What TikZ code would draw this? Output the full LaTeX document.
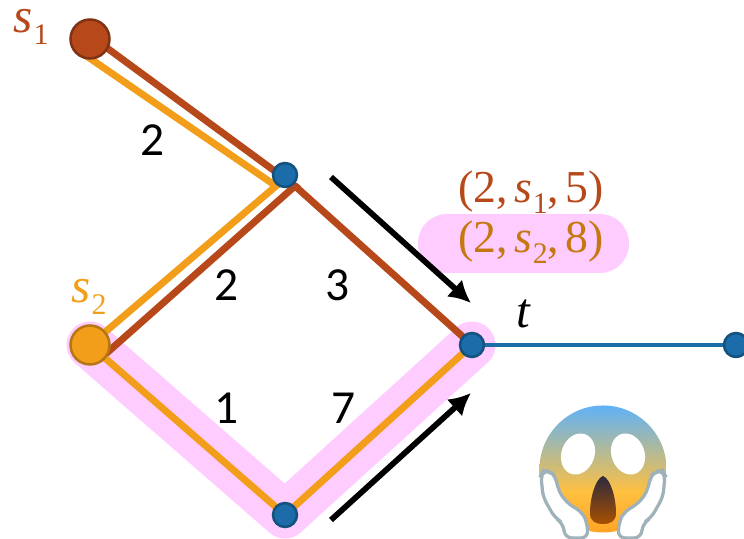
\documentclass[tikz,border=0pt]{standalone}
\usepackage{amsmath}
\usepackage{xcolor}
\usepackage{fontspec}
\usepackage{tikz}
\usetikzlibrary{arrows.meta,backgrounds}
\newfontfamily\lblfont{Carlito}
\newfontfamily\symfont{Liberation Serif}
\definecolor{srcone}{HTML}{B7481A}
\definecolor{srctwo}{HTML}{F29E1A}
\definecolor{srctwotext}{HTML}{C5780F}
\definecolor{vertex}{HTML}{1B6CA8}
\definecolor{halo}{HTML}{FFCCFF}
\definecolor{handline}{HTML}{9FB1B9}
\definecolor{facetop}{HTML}{5FB2F8}
\definecolor{facegold}{HTML}{FFC040}
\definecolor{facelow}{HTML}{FFA426}
\definecolor{mouthtop}{HTML}{2E2A3E}
\definecolor{mouthlow}{HTML}{A85000}
\pgfdeclareverticalshading{facefill}{100bp}{color(0bp)=(facelow); color(25bp)=(facelow);
  color(41bp)=(facegold); color(75bp)=(facetop); color(100bp)=(facetop)}
\newcommand{\srcvar}[1]{{\itshape s}\kern0.02em\raisebox{-0.24em}{\fontsize{17}{20}\selectfont #1}}
\newcommand{\tuplesep}{,\kern0.14em}

\begin{document}
\begin{tikzpicture}[
  bigv/.style={circle,minimum size=0.78cm,inner sep=0pt,outer sep=0pt,line width=0.05cm},
  smallv/.style={circle,draw=vertex!75!black,fill=vertex,minimum size=0.48cm,
                 inner sep=0pt,outer sep=0pt,line width=0.05cm},
  weight/.style={font=\lblfont\fontsize{27}{31}\selectfont,text=black},
  tuple/.style={font=\symfont\fontsize{26}{30}\selectfont},
  srclabel/.style={font=\symfont\fontsize{28}{32}\selectfont,inner sep=0pt},
  pen/.style={line width=0.14cm,line join=miter},
  push/.style={-{Latex[length=0.44cm,width=0.46cm]},line width=0.115cm,black},
  hand/.style={draw=handline,fill=white,line width=0.065cm,rounded corners=4pt}
]
\useasboundingbox (0,0) rectangle (14.88,10.78);

% vertices
\node[bigv,draw=srcone!70!black,fill=srcone] (s1) at (1.8,10.0) {};
\node[bigv,draw=srctwo!75!black,fill=srctwo] (s2) at (1.8,3.88) {};
\node[smallv] (upper) at (5.7,7.28) {};
\node[smallv] (lower) at (5.7,0.48) {};
\node[smallv] (t) at (9.44,3.88) {};
\node[smallv] (sink) at (14.72,3.88) {};

% route end points
\coordinate (s1brown) at (1.84,10.04);
\coordinate (s1orange) at (1.70,9.68);
\coordinate (s2brown) at (2.0,3.6);
\coordinate (bendbrown) at (5.9,7.06);
\coordinate (bendorange) at (5.52,7.06);

% routes behind the vertices
\begin{scope}[on background layer]
\draw[halo,line width=0.94cm,line join=round,line cap=round]
  (s2.center) -- (lower.center) -- (t.center);
\draw[pen,srcone] (s1brown) -- (bendbrown) -- (s2brown);
\draw[pen,srcone] (bendbrown) -- (t.center);
\draw[pen,srctwo] (s1orange) -- (bendorange) -- (s2.center);
\draw[pen,srctwo] (s2.center) -- (lower.center) -- (t.center);
\draw[vertex,line width=0.08cm] (t) -- (sink);
\end{scope}

% labels
\node[srclabel,text=srcone] (s1lbl) at (0.62,10.24) {\srcvar{1}};
\node[srclabel,text=srctwo] (s2lbl) at (1.78,4.84) {\srcvar{2}};
\node[srclabel] (tlbl) at (10.46,4.5) {\itshape t};
\node[weight] (w1) at (3.06,7.98) {2};
\node[weight] (w2) at (4.54,5.08) {2};
\node[weight] (w3) at (6.76,5.08) {3};
\node[weight] (w4) at (4.54,2.62) {1};
\node[weight] (w5) at (6.88,2.62) {7};

% tuples
\node[fill=halo,rounded corners=0.58cm,minimum width=4.22cm,minimum height=1.18cm,
  inner sep=0pt] (pill) at (10.47,5.91) {};
\node[tuple,text=srcone] (t1) at (10.62,6.94) {(2\tuplesep\srcvar{1}\tuplesep5)};
\node[tuple,text=srctwotext] (t2) at (10.62,5.93) {(2\tuplesep\srcvar{2}\tuplesep8)};

% arrows
\coordinate (pushtop) at (6.62,7.24);
\coordinate (pushtopend) at (9.42,4.72);
\coordinate (pushlow) at (6.62,0.38);
\coordinate (pushlowend) at (9.42,2.92);
\draw[push] (pushtop) -- (pushtopend);
\draw[push] (pushlow) -- (pushlowend);

% scared face
\begin{scope}[shift={(12.06,1.4)},x=0.02cm,y=-0.02cm]
\shade[shading=facefill] (0,0) circle (1.27cm);
\foreach \sx in {1,-1} {
  \begin{scope}[xscale=\sx]
  \fill[white,rotate around={-20:(-25,-15)}] (-25,-15) ellipse (0.33cm and 0.42cm);
  \draw[hand] (-62,6) -- (-60,2) -- (-53,2) -- (-47,8) -- (-45,21) -- (-36,34)
    -- (-21,43) -- (-16,53) -- (-15,69) -- (-38,69) -- (-40,54) -- (-48,49)
    -- (-60,28) -- cycle;
  \end{scope}
}
\shade[top color=mouthtop,bottom color=mouthlow]
  (0,7) .. controls (-8,10) and (-13,30) .. (-13,44)
  .. controls (-13,52) and (-8,55) .. (0,55)
  .. controls (8,55) and (13,52) .. (13,44)
  .. controls (13,30) and (8,10) .. (0,7) -- cycle;
\end{scope}
\end{tikzpicture}
\end{document}
